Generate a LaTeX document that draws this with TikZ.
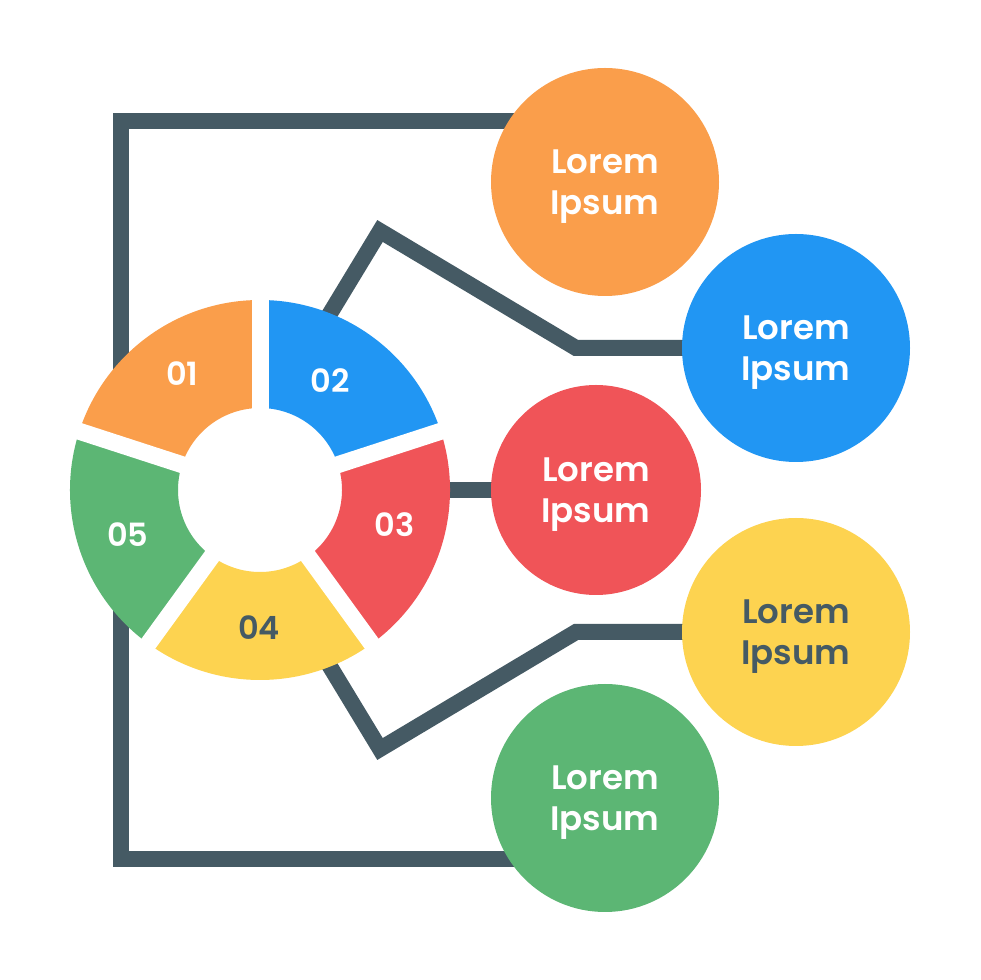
\documentclass[tikz,border=0pt]{standalone}
\usepackage{fontspec}
\setmainfont{Poppins}[BoldFont={Poppins SemiBold}]
\usepackage{tikz}
\usetikzlibrary{backgrounds,calc}
\definecolor{slate}{HTML}{455A64}
\definecolor{cOrange}{HTML}{FA9E4B}
\definecolor{cBlue}{HTML}{2196F3}
\definecolor{cRed}{HTML}{F05458}
\definecolor{cYellow}{HTML}{FDD350}
\definecolor{cGreen}{HTML}{5CB674}

\begin{document}
\begin{tikzpicture}[x=1pt, y=1pt,
    link/.style={draw=slate, line width=16pt},
    bubble/.style={circle, minimum size=228pt, inner sep=0pt, align=center,
        text depth=0pt, font=\fontsize{34}{41}\selectfont\bfseries, text=white},
    num/.style={font=\fontsize{32}{36}\selectfont\bfseries, text=white}]

    % 右侧圆
    \node[bubble, fill=cOrange] (lorem1) at (605,798) {Lorem\\Ipsum};
    \node[bubble, fill=cBlue] (lorem2) at (796,632) {Lorem\\Ipsum};
    \node[bubble, fill=cRed, minimum size=210pt] (lorem3) at (596,490) {Lorem\\Ipsum};
    \node[bubble, fill=cYellow, text=slate] (lorem4) at (796,348) {Lorem\\Ipsum};
    \node[bubble, fill=cGreen] (lorem5) at (605,182) {Lorem\\Ipsum};

    % 圆环
    \begin{scope}[shift={(260,490)}]
        \foreach \a/\b/\c in {90/162/cOrange, 18/90/cBlue, -54/18/cRed,
                              -126/-54/cYellow, 162/234/cGreen}
            \fill[\c] (\a:82) arc[start angle=\a, end angle=\b, radius=82]
                -- (\b:190) arc[start angle=\b, end angle=\a, radius=190] -- cycle;
        \foreach \a in {90,18,-54,-126,162}
            \draw[white, line width=17pt] (0,0) -- (\a:194);
        \foreach \a/\r/\t in {123.7/140/01, 57.5/130/02, -14.5/139/03, 198.8/139.5/05}
            \node[num] (n\t) at (\a:\r) {\t};
        \node[num, text=slate] (n04) at (-90.4:138) {04};
    \end{scope}

    % 连线
    \coordinate (tl) at (121,859);
    \coordinate (bl) at (121,121);
    \coordinate (s2) at (320,650);
    \coordinate (p2) at (380,749);
    \coordinate (q2) at (576,632);
    \coordinate (s3) at (400,490);
    \coordinate (s4) at (320,330);
    \coordinate (p4) at (380,231);
    \coordinate (q4) at (576,348);
    \begin{scope}[on background layer]
        \fill[white] (0,0) rectangle (980,980);
        \draw[link] (lorem1.center |- tl) -- (tl) -- (bl) -- (lorem5.center |- bl);
        \draw[link] (s2) -- (p2) -- (q2) -- (lorem2.center);
        \draw[link] (s3) -- (lorem3.center);
        \draw[link] (s4) -- (p4) -- (q4) -- (lorem4.center);
    \end{scope}
\end{tikzpicture}
\end{document}
